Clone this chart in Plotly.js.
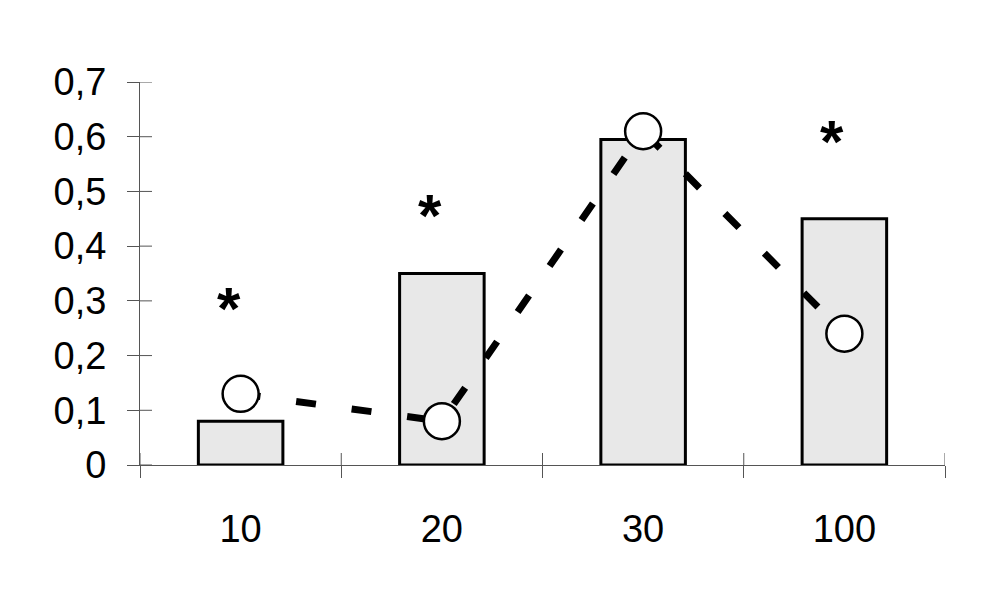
<!DOCTYPE html>
<html>
<head>
<meta charset="utf-8">
<script src="https://cdn.plot.ly/plotly-3.0.1.min.js"></script>
<style>
  html, body { margin: 0; padding: 0; background: #ffffff; }
  #chart { width: 993px; height: 609px; }
</style>
</head>
<body>
<div id="chart"></div>
<script>
// ---- data ----
var categories   = ['10', '20', '30', '100'];
var barValues    = [0.08, 0.35, 0.595, 0.45];
var circleValues = [0.13, 0.08, 0.61, 0.24];
var starValues   = [0.30, 0.47, null, 0.605];
var starText     = ['*', '*', '', '*'];
var yTickVals    = [0, 0.1, 0.2, 0.3, 0.4, 0.5, 0.6, 0.7];
var xBoundaries  = [-0.5, 0.5, 1.5, 2.5, 3.5];

var FONT = 'Liberation Sans, Arial, sans-serif';
var AXIS_COLOR = '#555555';

var bars = {
  type: 'bar',
  x: categories,
  y: barValues,
  width: 0.42,
  marker: { color: '#e8e8e8', line: { color: '#000000', width: 3 } },
  hoverinfo: 'skip',
  showlegend: false
};

var dashLine = {
  type: 'scatter',
  mode: 'lines',
  x: categories,
  y: circleValues,
  line: { color: '#000000', width: 7, dash: '20px,36px' },
  hoverinfo: 'skip',
  showlegend: false
};

var circles = {
  type: 'scatter',
  mode: 'markers',
  x: categories,
  y: circleValues,
  marker: { symbol: 'circle', size: 36, color: '#ffffff', line: { color: '#000000', width: 2.5 } },
  hoverinfo: 'skip',
  showlegend: false
};

// asterisks as annotations
var annotations = [];
for (var i = 0; i < categories.length; i++) {
  if (starValues[i] === null) continue;
  annotations.push({
    x: i, y: starValues[i], xref: 'x', yref: 'y',
    text: '<b>' + starText[i] + '</b>', showarrow: false,
    xanchor: 'center', yanchor: 'middle',
    xshift: -12, yshift: -8,
    font: { family: FONT, size: 60, color: '#000000' }
  });
}

// inner halves of the crossing tick marks
var shapes = [];
yTickVals.forEach(function (v) {
  shapes.push({
    type: 'line', xref: 'paper', yref: 'y',
    xsizemode: 'pixel', xanchor: 0, x0: 0, x1: 12,
    y0: v, y1: v,
    line: { color: AXIS_COLOR, width: 1 }, layer: 'below'
  });
});
xBoundaries.forEach(function (v) {
  shapes.push({
    type: 'line', xref: 'x', yref: 'paper',
    ysizemode: 'pixel', yanchor: 0, y0: 0, y1: 12,
    x0: v, x1: v,
    line: { color: AXIS_COLOR, width: 1 }, layer: 'below'
  });
});

var layout = {
  width: 993,
  height: 609,
  margin: { l: 140, r: 48, t: 82, b: 144 },
  paper_bgcolor: '#ffffff',
  plot_bgcolor: '#ffffff',
  separators: ',.',
  font: { family: FONT, size: 38, color: '#000000' },
  xaxis: {
    type: 'category',
    range: [-0.5, 3.5],
    showline: true, linecolor: AXIS_COLOR, linewidth: 1,
    ticks: 'outside', ticklen: 12, tickcolor: AXIS_COLOR, tickwidth: 1,
    tickson: 'boundaries',
    ticklabelstandoff: 30,
    showgrid: false, zeroline: false,
    tickfont: { family: FONT, size: 38, color: '#000000' }
  },
  yaxis: {
    range: [0, 0.7],
    tickvals: yTickVals,
    tickformat: '.1~f',
    showline: true, linecolor: AXIS_COLOR, linewidth: 1,
    ticks: 'outside', ticklen: 12, tickcolor: AXIS_COLOR, tickwidth: 1,
    ticklabelstandoff: 13,
    showgrid: false, zeroline: false,
    tickfont: { family: FONT, size: 38, color: '#000000' }
  },
  shapes: shapes,
  annotations: annotations,
  showlegend: false
};

Plotly.newPlot('chart', [bars, dashLine, circles], layout, { displayModeBar: false, staticPlot: true });
</script>
</body>
</html>
